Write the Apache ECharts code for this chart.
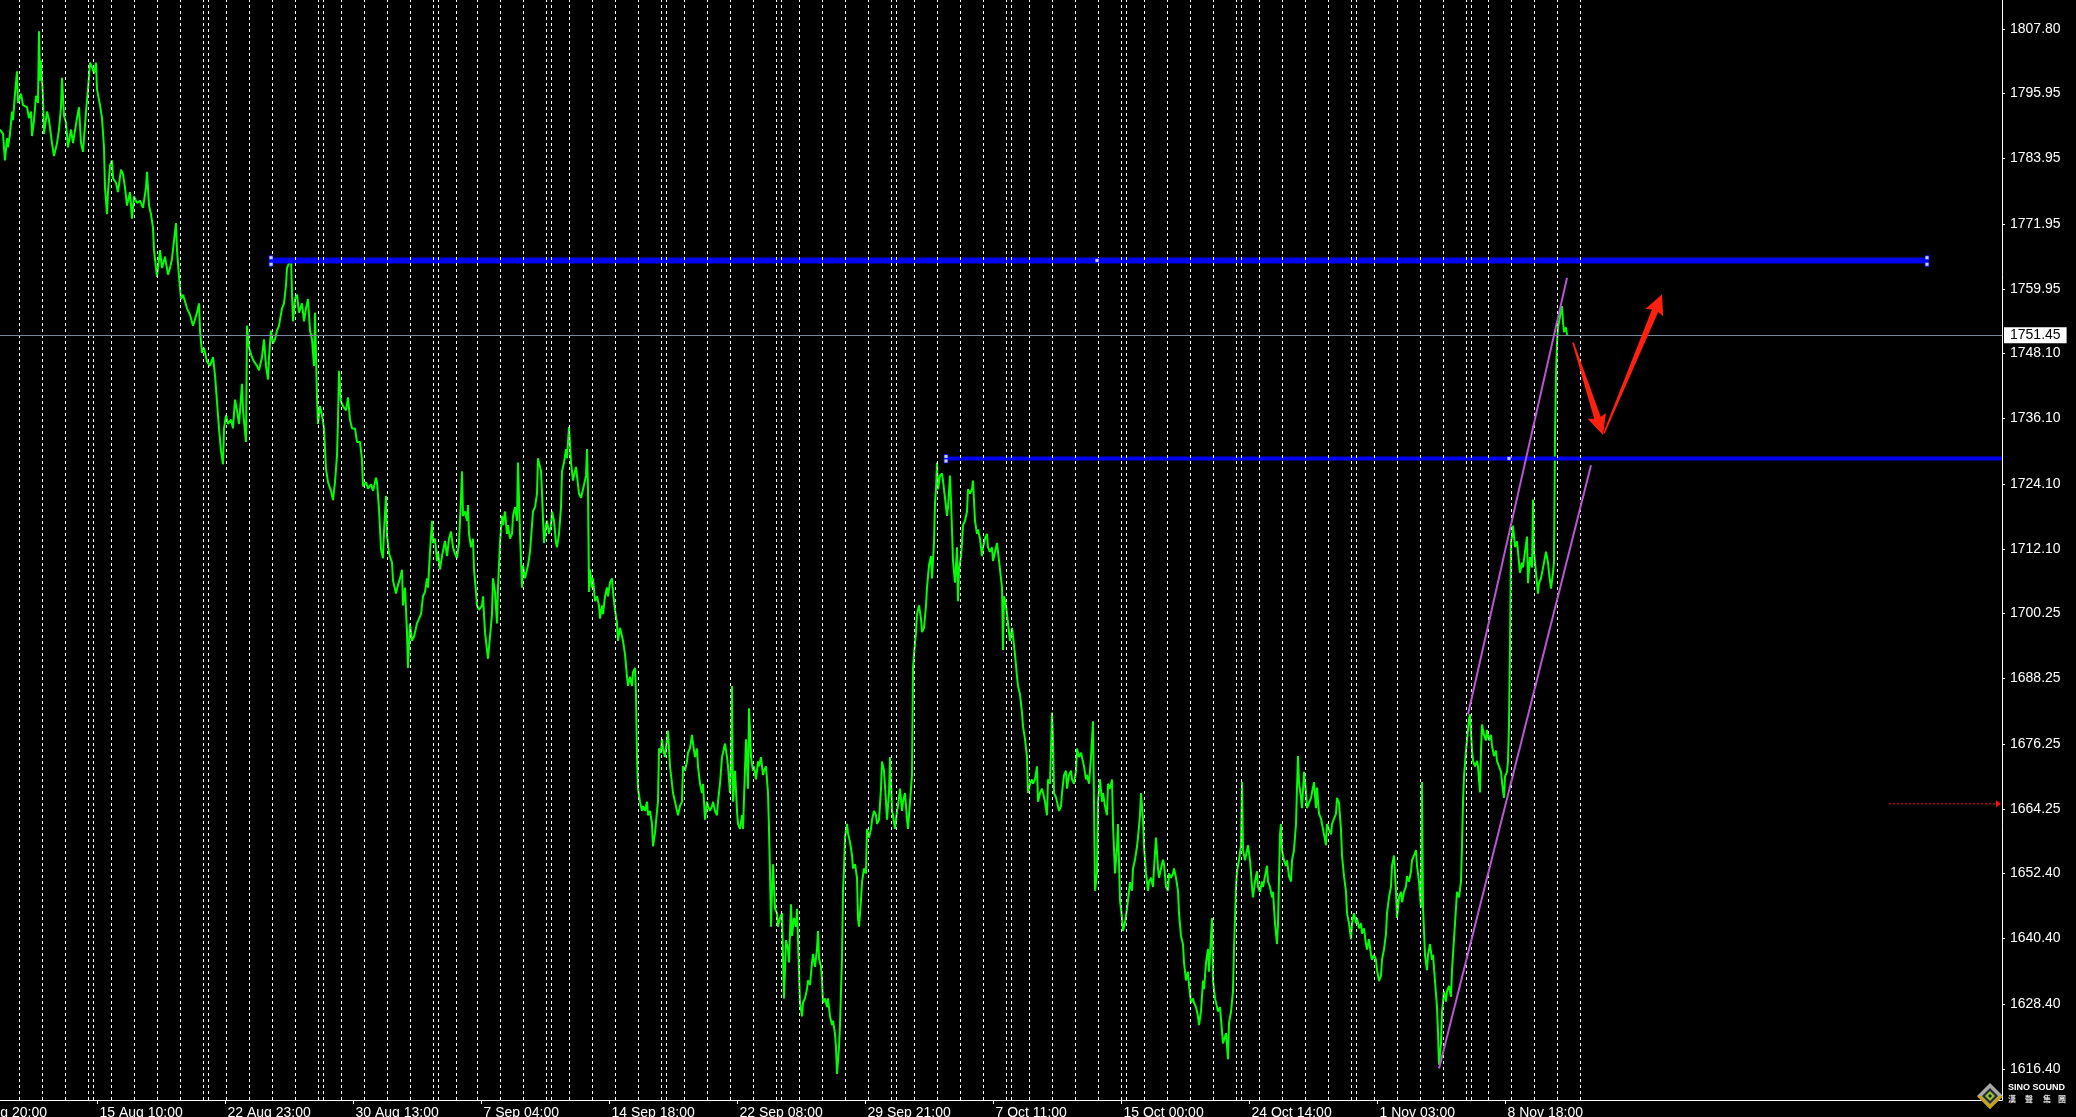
<!DOCTYPE html>
<html>
<head>
<meta charset="utf-8">
<script src="https://cdn.jsdelivr.net/npm/echarts@6/dist/echarts.min.js"></script>
<style>
html,body{margin:0;padding:0;background:#000;overflow:hidden;}
#c{width:2076px;height:1117px;}
</style>
</head>
<body>
<div id="c"></div>
<script>
// ---------------- DATA (H1 closes, bar index = x position) ----------------
const closesAug = [[0,1789.3],[3,1788.5],[5,1783.6],[7,1787.7],[8,1786.0],[10,1788.5],[12,1792.6],[13,1791.0],[15,1795.9],[17,1800.0],[18,1794.2],[21,1795.9],[23,1793.8],[27,1793.4],[29,1791.4],[31,1792.6],[32,1788.1],[34,1791.0],[36,1795.5],[38,1794.2],[39,1807.4],[40,1798.3],[41,1802.0],[43,1795.1],[44,1788.5],[47,1792.6],[49,1791.0],[52,1786.8],[54,1784.4],[57,1786.8],[59,1789.3],[61,1793.4],[62,1798.8],[64,1791.8],[66,1790.6],[68,1786.0],[71,1789.3],[73,1786.8],[77,1791.4],[79,1793.4],[81,1786.8],[83,1785.2],[86,1792.6],[88,1796.7],[90,1801.6],[92,1800.8],[94,1799.6],[96,1801.6],[97,1796.7],[100,1793.8],[102,1791.4],[104,1786.0],[105,1778.6],[107,1773.7],[108,1777.8],[110,1782.7],[112,1783.6],[113,1780.3],[116,1779.5],[118,1777.8],[121,1781.9],[123,1781.1],[125,1778.6],[127,1775.3],[130,1777.8],[132,1772.9],[134,1777.0],[137,1775.8],[140,1776.2],[143,1774.9],[146,1778.6],[147,1781.5],[149,1775.3],[151,1773.7],[153,1771.2],[154,1767.1],[157,1762.2],[159,1765.5],[160,1767.1],[162,1763.8],[165,1765.9],[168,1762.6],[170,1763.8],[172,1765.5],[174,1768.8],[176,1772.1],[177,1767.1],[179,1762.2],[181,1758.1],[183,1758.9],[185,1757.7],[187,1756.4],[190,1755.2],[193,1753.2],[197,1755.6],[199,1757.3],[200,1752.3],[202,1748.2],[204,1749.1],[207,1746.6],[210,1745.8],[213,1747.4],[215,1744.1],[217,1739.2],[219,1734.3],[221,1730.2],[223,1727.7],[224,1734.3],[226,1736.7],[228,1735.1],[231,1735.9],[233,1734.3],[235,1739.6],[237,1737.6],[239,1735.1],[242,1742.5],[243,1737.6],[246,1731.8],[247,1753.2],[249,1749.1],[252,1747.4],[254,1746.6],[257,1745.8],[259,1745.0],[262,1747.4],[264,1750.7],[266,1745.8],[268,1743.3],[269,1747.4],[271,1752.3],[273,1749.9],[275,1750.7],[277,1752.3],[279,1753.2],[282,1756.4],[284,1757.3],[286,1760.6],[287,1763.8],[289,1764.7],[291,1765.5],[292,1758.9],[293,1754.0],[295,1758.1],[297,1758.9],[299,1755.6],[302,1757.3],[304,1754.0],[306,1756.4],[308,1758.1],[310,1752.3],[312,1750.7],[314,1745.8],[315,1755.6],[317,1740.0],[318,1735.1],[320,1738.4],[322,1736.7],[324,1734.3],[326,1726.9],[328,1724.4],[331,1722.8],[333,1721.1],[335,1724.4],[337,1729.3],[338,1735.9],[339,1744.9],[341,1739.2],[343,1738.4],[346,1737.6],[348,1740.0],[350,1735.9],[352,1734.3],[355,1734.3],[357,1731.8],[360,1731.8],[362,1728.5],[363,1723.6],[366,1724.4],[368,1723.2],[371,1724.0],[373,1722.8],[376,1725.2],[377,1724.4],[379,1719.5],[381,1712.1],[383,1710.4],[384,1715.4],[386,1721.9],[387,1714.6],[389,1711.3],[392,1709.6],[393,1706.3],[396,1703.9],[398,1705.5]];

const closesSep = [[400,1706.7],[402,1708.3],[403,1701.7],[405,1705.0],[407,1696.8],[408,1690.2],[410,1698.4],[412,1695.2],[414,1696.0],[417,1698.4],[419,1698.4],[421,1700.1],[423,1703.4],[425,1704.2],[427,1706.7],[428,1705.0],[430,1711.6],[432,1717.3],[433,1713.2],[435,1714.0],[437,1709.9],[438,1711.6],[440,1708.3],[442,1710.8],[445,1713.6],[447,1710.8],[449,1714.0],[451,1715.3],[453,1712.4],[455,1711.2],[457,1710.4],[459,1713.2],[461,1721.5],[462,1726.4],[463,1718.2],[465,1719.0],[467,1717.3],[468,1720.2],[469,1714.9],[471,1712.4],[473,1714.0],[474,1708.3],[476,1704.2],[477,1701.7],[479,1700.9],[482,1701.7],[483,1703.4],[485,1696.8],[487,1693.5],[488,1691.9],[490,1696.0],[492,1700.1],[493,1706.7],[495,1704.2],[497,1698.4],[498,1705.0],[500,1713.2],[502,1718.2],[503,1716.5],[505,1719.0],[507,1714.9],[508,1716.5],[510,1714.0],[512,1714.9],[513,1718.2],[515,1719.8],[517,1717.3],[518,1728.0],[520,1714.9],[522,1705.0],[523,1709.1],[525,1706.7],[527,1708.3],[528,1709.1],[530,1711.6],[532,1716.5],[533,1719.0],[535,1719.8],[537,1722.3],[538,1728.8],[539,1728.0],[541,1726.4],[542,1722.3],[544,1713.2],[546,1716.5],[547,1717.3],[549,1714.9],[551,1716.5],[552,1719.0],[554,1717.3],[556,1713.2],[557,1712.4],[559,1714.9],[561,1719.8],[562,1726.4],[564,1728.0],[566,1730.5],[567,1728.8],[569,1734.6],[570,1731.3],[571,1728.0],[573,1724.7],[574,1725.6],[576,1727.2],[578,1723.9],[579,1722.3],[581,1721.5],[583,1723.1],[584,1723.9],[586,1725.6],[587,1730.5],[588,1723.1],[589,1704.2],[590,1708.3],[592,1705.0],[593,1706.7],[595,1702.5],[597,1703.4],[599,1701.7],[600,1699.3],[602,1701.7],[603,1700.1],[605,1703.4],[607,1705.0],[608,1703.4],[610,1705.9],[612,1706.7],[613,1704.2],[615,1700.9],[617,1698.4],[618,1695.2],[620,1697.6],[622,1697.6],[623,1695.2],[625,1692.7],[627,1688.6],[628,1686.9],[630,1688.6],[632,1686.9],[633,1689.4],[635,1690.2],[636,1685.3],[637,1673.8],[638,1668.0],[640,1665.6],[642,1663.9],[643,1664.8],[645,1663.9],[647,1665.6],[648,1663.1],[650,1663.9],[652,1661.5],[653,1657.4],[655,1659.8],[657,1663.9],[658,1665.6],[659,1675.4],[661,1674.6],[662,1677.1],[663,1675.4],[665,1673.8],[667,1677.1],[668,1678.7],[670,1672.1],[672,1668.9],[673,1667.2],[675,1665.6],[677,1663.9],[678,1663.1],[680,1664.8],[682,1665.6],[683,1672.1],[685,1671.3],[687,1673.0],[688,1674.6],[690,1675.4],[692,1677.9],[693,1676.3],[695,1673.8],[697,1675.4],[698,1672.1],[700,1668.9],[702,1667.2],[703,1668.9],[705,1662.3],[707,1665.6],[708,1664.8],[710,1663.9],[712,1664.8],[713,1665.6],[715,1663.9],[717,1663.1],[718,1665.6],[720,1668.9],[722,1673.8],[723,1674.6],[725,1676.3],[727,1673.8],[728,1672.1],[730,1667.2],[731,1673.0],[732,1686.9],[733,1665.6],[735,1671.3],[737,1663.9],[738,1661.5],[740,1660.6],[742,1663.1],[743,1660.6],[745,1660.6],[746,1677.1],[748,1668.0],[749,1682.8],[751,1673.8],[753,1671.3],[754,1672.1],[756,1669.7],[758,1673.0],[759,1672.1],[761,1673.8],[763,1670.5],[764,1671.3],[766,1672.1],[768,1667.2],[769,1660.6],[770,1652.4],[771,1642.6],[772,1649.2],[773,1654.1],[775,1645.9],[777,1645.1],[778,1642.6],[780,1644.2],[782,1645.1],[783,1636.8],[784,1629.4],[786,1640.1],[788,1638.5],[789,1636.0],[791,1646.7],[792,1640.9],[794,1644.2],[796,1642.6],[797,1645.9]];

const closesOct = [[800,1628.6],[802,1626.1],[803,1628.6],[805,1629.4],[807,1631.1],[808,1632.7],[810,1631.9],[812,1636.0],[813,1637.6],[815,1635.2],[817,1638.5],[818,1641.8],[819,1636.8],[821,1635.2],[822,1632.7],[823,1628.6],[825,1629.4],[827,1627.8],[828,1629.4],[830,1626.1],[832,1624.5],[833,1625.3],[835,1622.9],[836,1620.4],[837,1615.5],[838,1617.9],[839,1620.4],[840,1624.5],[842,1636.8],[843,1649.2],[844,1653.3],[845,1659.0],[847,1661.5],[848,1659.8],[850,1658.2],[852,1655.7],[853,1653.3],[855,1654.1],[857,1651.6],[858,1644.2],[859,1642.6],[861,1647.5],[862,1650.8],[864,1653.3],[866,1652.4],[867,1660.6],[869,1659.0],[871,1660.6],[872,1662.3],[874,1663.9],[876,1663.1],[877,1661.5],[879,1662.3],[881,1668.0],[882,1673.0],[884,1671.3],[886,1665.6],[887,1662.3],[889,1667.2],[890,1673.8],[892,1663.9],[893,1663.1],[895,1660.6],[897,1663.9],[898,1664.8],[900,1668.0],[902,1663.9],[903,1665.6],[905,1667.2],[907,1662.3],[908,1660.6],[910,1665.6],[912,1670.5],[913,1690.2],[914,1692.7],[916,1696.8],[917,1700.1],[919,1701.7],[921,1699.3],[922,1696.8],[924,1697.6],[926,1701.7],[927,1705.0],[929,1709.1],[931,1710.8],[932,1706.7],[934,1713.2],[935,1720.6],[936,1723.1],[937,1728.0],[938,1723.1],[940,1725.6],[942,1726.0],[943,1724.7],[945,1721.5],[947,1718.2],[948,1719.8],[950,1725.6],[952,1715.7],[953,1709.9],[955,1705.9],[957,1712.4],[958,1702.5],[959,1708.3],[961,1710.8],[962,1713.2],[963,1716.5],[965,1717.3],[967,1719.0],[968,1723.1],[970,1722.3],[972,1723.1],[973,1724.7],[975,1717.3],[977,1714.9],[978,1715.7],[980,1714.0],[982,1710.8],[983,1712.4],[985,1714.0],[987,1714.9],[988,1712.4],[990,1711.6],[992,1712.4],[993,1709.9],[995,1711.6],[997,1713.2],[998,1711.6],[1000,1708.3],[1002,1705.0],[1003,1693.5],[1004,1703.4],[1006,1701.7],[1007,1700.1],[1008,1698.4],[1010,1695.2],[1012,1697.6],[1013,1696.0],[1015,1692.7],[1017,1688.6],[1018,1686.9],[1020,1685.3],[1022,1682.0],[1023,1679.5],[1025,1677.1],[1027,1673.8],[1028,1667.2],[1030,1668.9],[1032,1669.7],[1033,1668.9],[1035,1669.7],[1037,1672.1],[1038,1665.6],[1040,1667.2],[1042,1668.0],[1043,1667.2],[1045,1665.6],[1047,1663.1],[1048,1669.7],[1050,1668.9],[1052,1682.0],[1053,1677.1],[1054,1667.2],[1056,1666.4],[1057,1665.6],[1059,1663.9],[1061,1664.8],[1062,1667.2],[1064,1670.5],[1066,1671.3],[1067,1668.0],[1069,1670.5],[1071,1671.3],[1072,1669.7],[1074,1668.9],[1076,1671.3],[1077,1675.4],[1079,1673.8],[1081,1674.6],[1082,1673.8],[1084,1672.1],[1086,1669.7],[1087,1670.5],[1089,1668.9],[1091,1673.8],[1092,1677.1],[1093,1680.4],[1094,1665.6],[1095,1649.2],[1097,1652.4],[1098,1665.6],[1100,1669.7],[1102,1665.6],[1103,1667.2],[1105,1664.8],[1107,1663.1],[1108,1668.9],[1110,1668.0],[1112,1669.7],[1113,1661.5],[1115,1652.4],[1117,1657.4],[1118,1661.5],[1120,1647.5],[1122,1644.2],[1123,1641.8],[1125,1643.4],[1127,1645.9],[1128,1647.5],[1130,1650.8],[1132,1649.2],[1133,1653.3],[1135,1654.9],[1137,1657.4],[1138,1659.0],[1140,1663.1],[1141,1667.2],[1143,1662.3],[1144,1657.4],[1146,1652.4],[1148,1649.2],[1149,1650.8],[1151,1651.6],[1153,1649.9],[1154,1653.3],[1156,1659.0],[1158,1653.3],[1159,1651.6],[1161,1653.3],[1163,1654.9],[1164,1654.1],[1166,1649.9],[1168,1649.2],[1169,1652.4],[1171,1651.6],[1173,1652.4],[1174,1653.3],[1176,1651.6],[1178,1649.2],[1179,1645.1],[1181,1640.9],[1183,1639.3],[1184,1636.0],[1186,1632.7],[1188,1634.3],[1189,1631.9],[1191,1628.6],[1193,1629.4],[1194,1628.6],[1196,1627.8],[1198,1626.1],[1199,1624.5],[1201,1627.0],[1203,1632.7],[1204,1631.1],[1206,1636.0],[1208,1638.5],[1209,1634.3],[1211,1640.9],[1212,1644.2],[1213,1632.7],[1215,1629.4],[1217,1627.8],[1218,1627.0]];

const closesNov = [[1220,1627.8],[1223,1621.1],[1226,1623.0],[1228,1618.2],[1229,1624.9],[1231,1626.9],[1233,1630.7],[1234,1638.4],[1235,1644.2],[1236,1649.9],[1237,1652.8],[1239,1654.8],[1241,1657.6],[1242,1669.2],[1243,1656.7],[1245,1654.8],[1247,1656.7],[1248,1657.6],[1250,1654.8],[1252,1649.9],[1253,1648.0],[1255,1650.9],[1257,1652.8],[1258,1649.9],[1260,1649.0],[1262,1650.9],[1263,1649.9],[1265,1651.9],[1267,1653.8],[1268,1650.9],[1270,1649.9],[1272,1648.0],[1273,1649.0],[1275,1643.2],[1277,1639.4],[1278,1643.2],[1280,1659.6],[1281,1661.5],[1282,1656.7],[1284,1654.8],[1286,1653.8],[1287,1654.8],[1289,1651.9],[1291,1650.9],[1292,1654.8],[1294,1656.7],[1296,1661.5],[1297,1668.2],[1298,1674.0],[1299,1669.2],[1301,1666.3],[1302,1664.4],[1304,1671.1],[1306,1667.3],[1307,1664.4],[1309,1665.4],[1311,1666.3],[1312,1667.3],[1314,1669.2],[1316,1664.4],[1317,1668.2],[1319,1663.4],[1321,1662.5],[1322,1661.5],[1324,1659.6],[1326,1657.6],[1327,1661.5],[1329,1660.5],[1331,1659.6],[1332,1661.5],[1334,1661.5],[1336,1663.4],[1337,1666.3],[1339,1665.4],[1341,1660.5],[1342,1655.7],[1344,1651.9],[1346,1649.0],[1347,1645.1],[1349,1643.2],[1351,1640.3],[1352,1643.2],[1354,1645.1],[1356,1643.2],[1357,1644.2],[1359,1642.3],[1361,1643.2],[1362,1641.3],[1364,1642.3],[1366,1639.4],[1367,1638.4],[1369,1640.3],[1371,1637.4],[1372,1636.5],[1374,1637.4],[1376,1636.5],[1377,1634.6],[1379,1632.6],[1381,1633.6],[1382,1636.5],[1384,1638.4],[1386,1641.3],[1387,1645.1],[1389,1648.0],[1391,1650.0],[1392,1653.8],[1394,1655.7],[1396,1649.0],[1397,1644.2],[1399,1648.0],[1401,1649.0],[1402,1647.1],[1404,1649.0],[1406,1650.0],[1407,1651.9],[1409,1650.9],[1411,1652.8],[1412,1654.8],[1414,1655.7],[1416,1656.7],[1417,1653.8],[1419,1650.9],[1421,1646.1],[1422,1669.2],[1423,1646.1],[1425,1637.4],[1427,1634.6],[1428,1637.4],[1430,1639.4],[1432,1636.5],[1433,1637.4],[1435,1632.6],[1437,1627.8],[1438,1623.0],[1439,1617.2],[1441,1621.1],[1442,1626.9],[1444,1630.7],[1446,1628.8],[1447,1630.7],[1449,1631.7],[1451,1629.7],[1452,1634.6],[1454,1640.3],[1456,1646.1],[1457,1649.0],[1459,1648.0],[1461,1650.9],[1462,1657.6],[1463,1665.4],[1464,1670.2],[1466,1675.0],[1467,1676.9],[1469,1680.8],[1470,1681.7],[1472,1675.0],[1473,1673.1],[1475,1672.1],[1477,1673.1],[1478,1672.1],[1480,1667.3],[1481,1675.0],[1482,1679.8],[1484,1677.9],[1486,1676.9],[1487,1678.8],[1489,1676.9],[1491,1677.9],[1492,1675.9],[1494,1674.0],[1496,1675.0],[1497,1673.1],[1499,1672.1],[1501,1671.1],[1502,1669.2],[1504,1666.3],[1505,1670.2],[1507,1671.1],[1508,1673.1],[1509,1679.8],[1510,1694.2],[1511,1713.5],[1512,1714.4],[1513,1716.4],[1515,1712.5],[1517,1713.5],[1518,1711.6],[1520,1707.7],[1522,1709.6],[1523,1708.7],[1525,1711.6],[1527,1714.4],[1528,1705.8],[1530,1710.6],[1532,1708.7],[1533,1721.2],[1534,1711.6],[1536,1707.7],[1538,1703.9],[1539,1705.8],[1541,1706.7],[1543,1706.7],[1544,1709.6],[1546,1711.6],[1548,1709.6],[1549,1707.7],[1551,1704.8],[1553,1707.7],[1554,1709.6],[1555,1732.7],[1556,1744.3],[1557,1750.1],[1558,1752.9],[1560,1754.9],[1562,1756.8],[1563,1753.9],[1564,1752.0],[1566,1752.9],[1567,1751.45]];

// price scale tick labels
const priceTicks = [1616.40,1628.40,1640.40,1652.40,1664.25,1676.25,1688.25,1700.25,1712.10,1724.10,1736.10,1748.10,1759.95,1771.95,1783.95,1795.95,1807.80];
// time scale tick labels (bar positions and texts); the first one lies left of the visible window
const timeTickBars = [-31,97,225,353,481,609,737,865,993,1121,1249,1377,1505];
const timeTickLabels = ["8 Aug 20:00","15 Aug 10:00","22 Aug 23:00","30 Aug 13:00","7 Sep 04:00","14 Sep 18:00","22 Sep 08:00","29 Sep 21:00","7 Oct 11:00","15 Oct 00:00","24 Oct 14:00","1 Nov 03:00","8 Nov 18:00"];
// period separators (bar positions)
const periodSeparators = [19,42,65,88,93,111,134,157,180,203,208,226,249,272,295,318,323,341,364,387,410,433,438,456,477,500,523,546,551,569,592,615,638,661,666,684,707,730,753,776,781,799,822,845,868,891,896,914,937,960,983,1006,1011,1029,1052,1075,1098,1121,1126,1144,1167,1190,1213,1236,1241,1259,1282,1305,1328,1351,1356,1374,1397,1420,1443,1466,1471,1488,1511,1534,1557,1580];

const lastPrice = 1751.45;
const resistanceLine = [[269,1765.2],[1929,1765.2]];
const supportLine = [[944,1728.78],[2002,1728.78]];
const channelLower = [[1439,1616.5],[1591,1727.5]];
const channelUpper = [[1468,1681.7],[1567,1762.0]];
const arrowDown = [[1573,1750.1],[1603,1733.1]];
const arrowUp = [[1604,1733.4],[1662,1759.0]];
const alertLevel = [[1889,1665.2],[1996,1665.2]];
const objectHandles = [[271,1765.71],[271,1764.50],[1927,1765.71],[1927,1764.50],[1097,1765.2],[946,1729.13],[946,1728.30],[1509,1728.76]];

// ---------------- CHART ----------------
const FONT = 'Liberation Sans';
const chart = echarts.init(document.getElementById('c'), null, {width: 2076, height: 1117});
const priceLine = closesAug.concat(closesSep, closesOct, closesNov);
const X_MIN = 0, X_MAX = 2002;
const LABEL_GAP = 6;
const visibleTicks = timeTickBars.filter(v => v >= X_MIN);

const option = {
  backgroundColor: '#000000',
  animation: false,
  grid: {left: 0, right: 74, top: 0, bottom: 17, containLabel: false, outerBoundsMode: 'none'},
  xAxis: {
    type: 'value', min: X_MIN, max: X_MAX,
    axisLine: {show: true, onZero: false, lineStyle: {color: '#ffffff', width: 1}},
    axisTick: {show: true, length: 4, lineStyle: {color: '#ffffff'}, customValues: visibleTicks.map(v => v + 0.5)},
    axisLabel: {
      show: true, customValues: visibleTicks.map(v => v + 0.5),
      formatter: v => { const i = timeTickBars.indexOf(Math.round(v - 0.5)); return i >= 0 ? timeTickLabels[i] : ''; },
      color: '#ffffff', fontFamily: FONT, fontSize: 14, align: 'left', margin: LABEL_GAP, verticalAlign: 'top', padding: [0,0,0,2]
    },
    splitLine: {show: false}
  },
  yAxis: {
    type: 'value', position: 'right', min: 1610.70, max: 1813.137, scale: true,
    axisLine: {show: true, onZero: false, lineStyle: {color: '#ffffff', width: 1}},
    axisTick: {show: true, length: 3, lineStyle: {color: '#ffffff'}, customValues: priceTicks},
    axisLabel: {show: true, customValues: priceTicks, formatter: v => v.toFixed(2), color: '#ffffff', fontFamily: FONT, fontSize: 14, margin: 8},
    splitLine: {show: false}
  },
  series: [
    { // period separators
      type: 'line', data: [], z: 1, silent: true,
      markLine: {
        silent: true, symbol: ['none','none'], animation: false,
        label: {show: false},
        lineStyle: {color: '#ffffff', width: 1, type: [3,3]},
        data: periodSeparators.map(v => ({xAxis: v + 0.5}))
      }
    },
    { // bid line + last price label
      type: 'line', data: [], z: 2, silent: true,
      markLine: {
        silent: true, symbol: ['none','none'], animation: false,
        lineStyle: {color: '#778899', width: 1, type: 'solid'},
        label: {show: true, position: 'end', distance: 2, formatter: () => lastPrice.toFixed(2),
                backgroundColor: '#ffffff', color: '#000000', fontFamily: FONT, fontSize: 14, lineHeight: 14, padding: [1,6,1,6]},
        data: [{yAxis: lastPrice}]
      }
    },
    { // price line
      name: 'XAUUSD', type: 'line', data: priceLine, z: 3, showSymbol: false, symbol: 'none',
      lineStyle: {color: '#00ff00', width: 2}, sampling: null, clip: true, silent: true
    },
    { type: 'line', data: resistanceLine, z: 4, showSymbol: false, symbol: 'none', silent: true,
      lineStyle: {color: '#0000f0', width: 6} },
    { type: 'line', data: supportLine, z: 4, showSymbol: false, symbol: 'none', silent: true,
      lineStyle: {color: '#0000f0', width: 4} },
    { type: 'line', data: channelLower, z: 5, showSymbol: false, symbol: 'none', silent: true,
      lineStyle: {color: '#ba55d3', width: 2} },
    { type: 'line', data: channelUpper, z: 5, showSymbol: false, symbol: 'none', silent: true,
      lineStyle: {color: '#ba55d3', width: 2} },
    { type: 'line', data: alertLevel, z: 5, showSymbol: false, symbol: 'none', silent: true,
      lineStyle: {color: '#ff1010', width: 1, type: [2,2]} },
    { type: 'scatter', data: objectHandles, z: 6, symbol: 'rect', symbolSize: 4, silent: true,
      itemStyle: {color: '#ffffff', borderColor: '#0000f0', borderWidth: 1} }
  ]
};
chart.setOption(option);

function arrowShape(tail, tip) {
  const T = chart.convertToPixel({gridIndex: 0}, tail);
  const P = chart.convertToPixel({gridIndex: 0}, tip);
  const dx = P[0] - T[0], dy = P[1] - T[1], L = Math.hypot(dx, dy);
  const ux = dx / L, uy = dy / L, nx = -uy, ny = ux;
  const headLen = 18, headHalf = 9.6, bodyHead = 3.4, bodyTail = 0.8;
  const B = [P[0] - ux * headLen, P[1] - uy * headLen];
  return [
    [T[0] + nx * bodyTail, T[1] + ny * bodyTail],
    [B[0] + nx * bodyHead, B[1] + ny * bodyHead],
    [B[0] + nx * headHalf - ux * 2, B[1] + ny * headHalf - uy * 2],
    [P[0], P[1]],
    [B[0] - nx * headHalf - ux * 2, B[1] - ny * headHalf - uy * 2],
    [B[0] - nx * bodyHead, B[1] - ny * bodyHead],
    [T[0] - nx * bodyTail, T[1] - ny * bodyTail]
  ];
}
const alertEnd = chart.convertToPixel({gridIndex: 0}, alertLevel[1]);
// time label that starts left of the window (only its tail is visible)
const hiddenTickX = chart.convertToPixel({gridIndex: 0}, [timeTickBars[0] + 0.5, lastPrice])[0];
const axisY = chart.convertToPixel({gridIndex: 0}, [0, 1610.70])[1];
const cx = 1990, cy = 1096;
chart.setOption({
  graphic: [
    {type: 'text', z: 40, silent: true, x: hiddenTickX + 2, y: axisY + LABEL_GAP, style: {text: timeTickLabels[0], fill: '#ffffff', font: '14px "Liberation Sans"', textVerticalAlign: 'top'}},
    {type: 'polygon', z: 50, silent: true, shape: {points: arrowShape(arrowDown[0], arrowDown[1])}, style: {fill: '#ff2010'}},
    {type: 'polygon', z: 50, silent: true, shape: {points: arrowShape(arrowUp[0], arrowUp[1])}, style: {fill: '#ff2010'}},
    {type: 'polygon', z: 50, silent: true, shape: {points: [[alertEnd[0], alertEnd[1] - 3.5], [alertEnd[0] + 5, alertEnd[1]], [alertEnd[0], alertEnd[1] + 3.5]]}, style: {fill: '#ff1010'}},
    // logo
    {type: 'polygon', z: 60, silent: true, shape: {points: [[cx, cy - 13], [cx + 13, cy], [cx, cy + 13], [cx - 13, cy]]}, style: {fill: '#a8a8a8'}},
    {type: 'polygon', z: 61, silent: true, shape: {points: [[cx - 13, cy], [cx, cy + 13], [cx + 13, cy], [cx + 9, cy], [cx, cy + 9], [cx - 9, cy]]}, style: {fill: '#c9a20c'}},
    {type: 'polygon', z: 62, silent: true, shape: {points: [[cx, cy - 8], [cx + 8, cy], [cx, cy + 8], [cx - 8, cy]]}, style: {fill: '#2a2a2a'}},
    {type: 'polygon', z: 63, silent: true, shape: {points: [[cx, cy - 5], [cx + 5, cy], [cx, cy + 5], [cx - 5, cy]]}, style: {fill: '#8cc43c'}},
    {type: 'polygon', z: 64, silent: true, shape: {points: [[cx, cy - 2], [cx + 2, cy], [cx, cy + 2], [cx - 2, cy]]}, style: {fill: '#1a1a1a'}},
    {type: 'text', z: 60, silent: true, x: 2008, y: 1083, style: {text: 'SINO SOUND', fill: '#ffffff', font: 'bold 9px "Liberation Sans"'}},
    {type: 'text', z: 60, silent: true, x: 2008, y: 1095, style: {text: '漢', fill: '#e0e0e0', font: 'bold 8px "Noto Sans CJK TC"'}},
    {type: 'text', z: 60, silent: true, x: 2025, y: 1095, style: {text: '聲', fill: '#e0e0e0', font: 'bold 8px "Noto Sans CJK TC"'}},
    {type: 'text', z: 60, silent: true, x: 2043, y: 1095, style: {text: '集', fill: '#e0e0e0', font: 'bold 8px "Noto Sans CJK TC"'}},
    {type: 'text', z: 60, silent: true, x: 2058, y: 1095, style: {text: '團', fill: '#e0e0e0', font: 'bold 8px "Noto Sans CJK TC"'}}
  ]
});
</script>
</body>
</html>
